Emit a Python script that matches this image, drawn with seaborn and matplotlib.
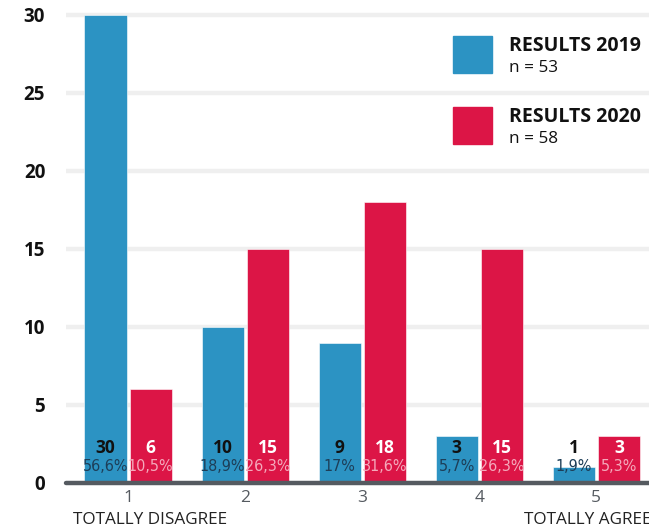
import pandas as pd
import matplotlib
matplotlib.use("Agg")
import matplotlib.pyplot as plt
import seaborn as sns
from matplotlib.patches import Rectangle

# data
categories = ["1", "2", "3", "4", "5"]
counts_2019 = [30, 10, 9, 3, 1]
counts_2020 = [6, 15, 18, 15, 3]
pct_2019 = ["56,6%", "18,9%", "17%", "5,7%", "1,9%"]
pct_2020 = ["10,5%", "26,3%", "31,6%", "26,3%", "5,3%"]
years = ["RESULTS 2019", "RESULTS 2020"]
n_values = ["n = 53", "n = 58"]
yticks = [0, 5, 10, 15, 20, 25, 30]

BLUE = "#2c93c3"
RED = "#dc1546"

df = pd.DataFrame({
    "answer": categories * 2,
    "count": counts_2019 + counts_2020,
    "year": [years[0]] * 5 + [years[1]] * 5,
})

sns.set_style("white")
plt.rcParams["font.family"] = ["Open Sans", "DejaVu Sans"]

fig = plt.figure(figsize=(6.49, 5.32), dpi=100)
ax = fig.add_axes([66 / 649, 49 / 532, 1 - 66 / 649, 1 - 49 / 532])

sns.barplot(data=df, x="answer", y="count", hue="year", order=categories,
            palette=[BLUE, RED], saturation=1, width=0.77, gap=0.065,
            legend=False, edgecolor="white", linewidth=0.4, zorder=3, ax=ax)

ax.set_xlim(-0.53, 4.45)
ax.set_ylim(0, 30.96)
ax.set_yticks(yticks)
ax.set_yticklabels([str(t) for t in yticks], fontsize=13.5, fontweight="bold",
                   color="#111111")
ax.tick_params(axis="y", length=0, pad=15)
ax.tick_params(axis="x", length=0, pad=5, labelsize=12.5, labelcolor="#555a60")
ax.set_xlabel("")
ax.set_ylabel("")
for s in ax.spines.values():
    s.set_visible(False)

# thick light gridlines and dark baseline
for t in yticks[1:]:
    ax.axhline(t, color="#efefef", lw=3.2, zorder=1)
ax.axhline(0, color="#555a60", lw=3.2, zorder=4, clip_on=False)

# labels inside bars
for cont, counts, pcts, ccol, pcol in [
        (ax.containers[0], counts_2019, pct_2019, "#111111", "#1d3e58"),
        (ax.containers[1], counts_2020, pct_2020, "white", "#f4a9bb")]:
    for bar, c, p in zip(cont, counts, pcts):
        xc = bar.get_x() + bar.get_width() / 2
        ax.text(xc, 2.25, str(c), ha="center", va="center", fontsize=12.5,
                fontweight="bold", color=ccol, zorder=5)
        ax.text(xc, 1.05, p, ha="center", va="center", fontsize=11.5,
                color=pcol, zorder=5, family="DejaVu Sans",
                fontstretch="condensed")

# end labels under the axis
ax.text(-0.47, -2.4, "TOTALLY DISAGREE", ha="left", va="center",
        fontsize=12.3, color="#222222", clip_on=False)
ax.text(3.38, -2.4, "TOTALLY AGREE", ha="left", va="center",
        fontsize=12.3, color="#222222", clip_on=False)

# legend drawn by hand
for i, (col, lab, n) in enumerate(zip([BLUE, RED], years, n_values)):
    top = 36 + i * 71
    fig.add_artist(Rectangle((453 / 649, 1 - (top + 37) / 532), 39 / 649, 37 / 532,
                             transform=fig.transFigure, color=col, zorder=6))
    fig.text(509 / 649, 1 - (top + 10) / 532, lab, fontsize=14,
             fontweight="bold", color="#111111", va="center", ha="left")
    fig.text(509 / 649, 1 - (top + 32) / 532, n, fontsize=12.3,
             color="#111111", va="center", ha="left")

fig.savefig("out.png", dpi=100)
